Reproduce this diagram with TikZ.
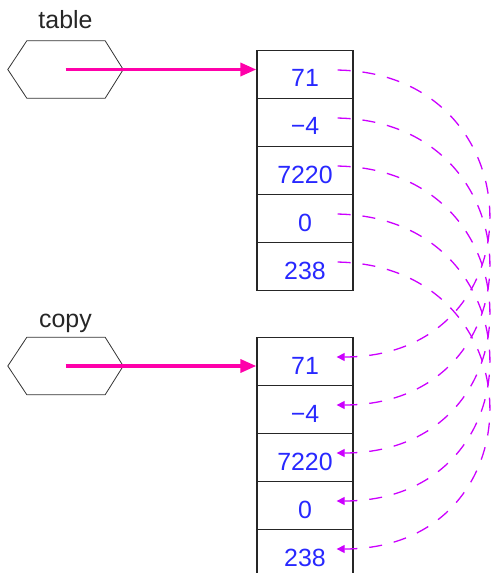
\documentclass[tikz,border=0pt]{standalone}
\usepackage{fontspec}
\setmainfont{Liberation Sans}
\usetikzlibrary{arrows.meta,calc}
\definecolor{refpink}{RGB}{255,0,170}
\definecolor{dashviolet}{RGB}{204,0,255}
\definecolor{valblue}{RGB}{40,40,255}
\begin{document}
\begin{tikzpicture}[x=1bp,y=-1bp,
  varhex/.style={minimum width=115bp,minimum height=57bp,inner sep=0pt},
  hexline/.style={draw=black!80,line width=0.8bp},
  varlabel/.style={anchor=base,font=\fontsize{25}{25}\selectfont,text=black!85,inner sep=0pt},
  cell/.style={draw=black!85,line width=1.3bp,minimum width=96bp,minimum height=48bp,
    inner sep=0pt,text height=25bp,text depth=0pt,text=valblue,font=\fontsize{25}{25}\selectfont},
  refarrow/.style={draw=refpink,line width=3.5bp,-{Triangle[length=16bp,width=13bp]}},
  copylink/.style={draw=dashviolet,line width=1.3bp,dash pattern=on 13bp off 12bp,
    {Triangle[length=8bp,width=8bp]}-}
]
\clip (0,0) rectangle (493,573);

% variable boxes
\node[varhex] (tab) at (65.5,69.5) {};
\node[varhex] (cp) at (65.5,366) {};
\foreach \h in {tab,cp}
  \draw[hexline] ($(\h.north west)+(19,0)$) -- ($(\h.north east)+(-18,0)$) -- (\h.east)
    -- ($(\h.south east)+(-18,0)$) -- ($(\h.south west)+(19,0)$) -- (\h.west) -- cycle;
\node[varlabel] (tablbl) at ($(tab.north)+(0,-12)$) {table};
\node[varlabel] (cplbl) at ($(cp.north)+(0,-10)$) {copy};

% the two arrays
\foreach \v [count=\i] in {71,−4,7220,0,238} {
  \node[cell] (t\i) at (305,{74.5+48*(\i-1)}) {\v};
  \node[cell] (c\i) at (305,{361.5+48*(\i-1)}) {\v};
}

% references
\draw[refarrow] (tab.center) -- (tab.center -| t1.west);
\draw[refarrow] (cp.center) -- (cp.center -| c1.west);

% element-wise copy links
\foreach \i in {1,...,5}
  \draw[copylink] ($(c\i.east)+(-17,-4.5)$) .. controls +(205,0) and +(205,0) .. ($(t\i.east)+(-20,-4.5)$);
\end{tikzpicture}
\end{document}
